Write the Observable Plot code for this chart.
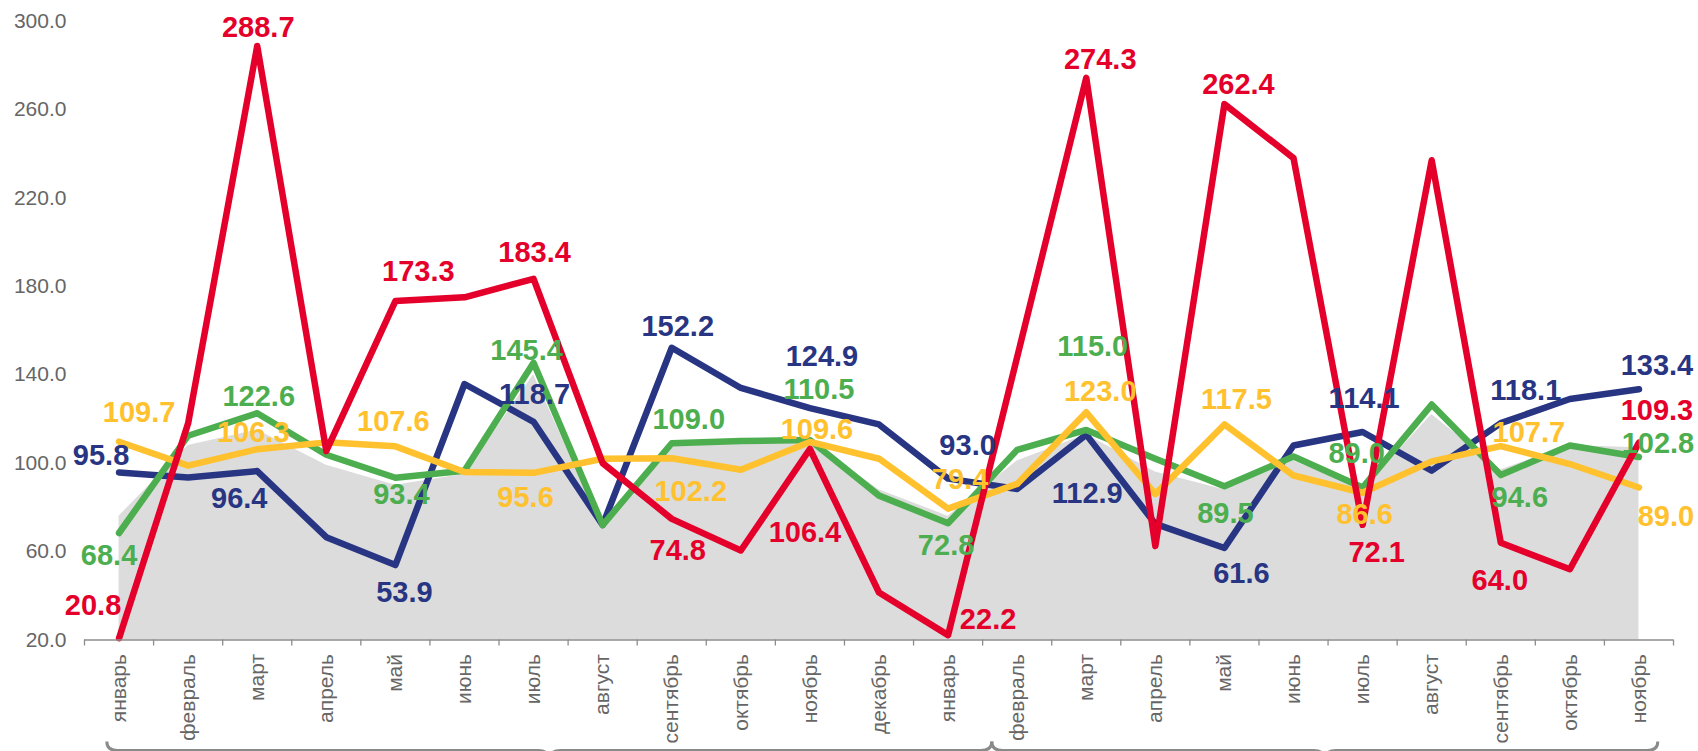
<!DOCTYPE html>
<html>
<head>
<meta charset="utf-8">
<script src="https://cdn.jsdelivr.net/npm/d3@7"></script>
<script src="https://cdn.jsdelivr.net/npm/@observablehq/plot@0.6"></script>
<style>
  html, body { margin: 0; padding: 0; background: #fff; }
  #chart svg { display: block; }
</style>
</head>
<body>
<div id="chart"></div>
<script>
// ---- data ----
const months = ["январь","февраль","март","апрель","май","июнь","июль","август","сентябрь","октябрь","ноябрь","декабрь",
                "январь","февраль","март","апрель","май","июнь","июль","август","сентябрь","октябрь","ноябрь"];
const redValues    = [20.8, 118, 288.7, 105.5, 173.3, 175, 183.4, 100, 74.8, 60.5, 106.4, 41.5, 22.2, 148, 274.3, 62.5, 262.4, 238, 72.1, 237, 64.0, 52, 109.3];
const navyValues   = [95.8, 93.5, 96.4, 66.5, 53.9, 135.8, 118.7, 72, 152.2, 134, 124.9, 117.5, 93.0, 88.3, 112.9, 72.5, 61.6, 108, 114.1, 96.6, 118.1, 129, 133.4];
const greenValues  = [68.4, 112.4, 122.6, 103.8, 93.4, 96.6, 145.4, 72, 109.0, 110, 110.5, 85.3, 72.8, 106, 115.0, 102, 89.5, 103, 89.0, 126.5, 94.6, 108, 102.8];
const yellowValues = [109.7, 98.9, 106.3, 109.4, 107.6, 96, 95.6, 102, 102.2, 97, 109.6, 102, 79.4, 90.6, 123.0, 86, 117.5, 94.4, 86.6, 100.8, 107.7, 99.6, 89.0];
const greyValues   = [76, 108, 115, 99, 90, 95, 140, 71, 108, 109, 110, 88, 76, 101, 113, 96, 88, 101, 88, 122, 97, 108, 107];
const yTicks = [20, 60, 100, 140, 180, 220, 260, 300];

// ---- styles / layout (not data) ----
const colors = { red: "#E4002B", navy: "#283583", green: "#4DAE4F", yellow: "#FFC12E", grey: "#DCDCDC" };
// label offsets [dx, dy] in px for the labelled (every other) month
const labelOffsets = {
  red:    [[-26,-33],[1,-18],[23,-29],[1,-26],[6,32],[-5,84],[40,-15],[14,-18],[14,-19],[14,28],[-1,38],[18,-31.5]],
  navy:   [[-18,-17],[-18,28],[9,27.5],[1,-27],[6,-21],[12,-51.5],[19.5,-33],[1,59],[17,25.5],[1.5,-33.5],[25,-32.5],[18,-24]],
  green:  [[-10,22.6],[1.5,-16],[6,17.4],[-7,-12],[17,-24],[9,-50.5],[-2,22],[6.5,-83],[1,27.6],[-6,-33.5],[19,22.6],[19,-13]],
  yellow: [[20,-28.5],[-4,-16],[-2,-25],[-8,24.5],[19,33],[7,-12.5],[12,-28.5],[14,-21],[12,-25],[2,21.5],[28,-13],[27,29]]
};
const braceSpans = [[-0.17, 12.64], [12.64, 22.28]]; // decorative brackets under the axis (x units)

// ---- table ----
const table = months.map((m, i) => ({
  i, month: m,
  red: redValues[i], navy: navyValues[i], green: greenValues[i], yellow: yellowValues[i], grey: greyValues[i]
}));

const lineOrder = ["navy", "green", "yellow", "red"];
const labelOrder = ["red", "navy", "green", "yellow"];

const lineMarks = lineOrder.map(key => Plot.line(table, {
  x: "i", y: key, stroke: colors[key], strokeWidth: 6.5,
  strokeLinejoin: "round", strokeLinecap: "round"
}));

const labelMarks = [];
for (const key of labelOrder) {
  table.filter(d => d.i % 2 === 0).forEach((d, k) => {
    const [dx, dy] = labelOffsets[key][k];
    labelMarks.push(Plot.text([d], {
      x: "i", y: key, text: r => r[key].toFixed(1),
      fill: colors[key], fontSize: 29, fontWeight: "bold", dx, dy
    }));
  });
}

const chart = Plot.plot({
  width: 1698,
  height: 751,
  marginLeft: 84,
  marginRight: 25,
  marginTop: 20.5,
  marginBottom: 111.5,
  style: { fontFamily: "'Liberation Sans', Arial, sans-serif", background: "#fff", overflow: "visible" },
  x: { type: "linear", domain: [-0.5, 22.5] },
  y: { domain: [20, 300] },
  marks: [
    Plot.areaY(table, { x: "i", y1: 20, y2: "grey", fill: colors.grey }),
    ...lineMarks,
    Plot.ruleY([20], { stroke: "#8c8c8c", strokeWidth: 1.6 }),
    Plot.axisX({ ticks: d3.range(24).map(k => k - 0.5), tickSize: 6, tickFormat: () => "", color: "#8c8c8c", strokeWidth: 1.3, label: null }),
    Plot.axisX({ ticks: d3.range(months.length), tickSize: 0, tickPadding: 14, tickRotate: -90,
                 tickFormat: i => months[i], fontSize: 21, color: "#666", label: null }),
    Plot.axisY({ ticks: yTicks, tickSize: 0, tickPadding: 18, tickFormat: d => d.toFixed(1),
                 fontSize: 21, color: "#666", label: null }),
    ...labelMarks
  ]
});

document.getElementById("chart").appendChild(chart);

// decorative braces under the month labels
const xs = chart.scale("x");
const svg = d3.select(chart);
for (const [a, b] of braceSpans) {
  const xa = xs.apply(a), xb = xs.apply(b), xm = (xa + xb) / 2;
  const yl = 750.5, top = 741.5, r = 11;
  const d = `M${xa},${top} Q${xa},${yl} ${xa + r},${yl} L${xm - r},${yl} Q${xm},${yl} ${xm},${yl + 10} ` +
            `M${xm},${yl + 10} Q${xm},${yl} ${xm + r},${yl} L${xb - r},${yl} Q${xb},${yl} ${xb},${top}`;
  svg.append("path").attr("d", d).attr("fill", "none").attr("stroke", "#8a8a8a").attr("stroke-width", 3);
}
</script>
</body>
</html>
